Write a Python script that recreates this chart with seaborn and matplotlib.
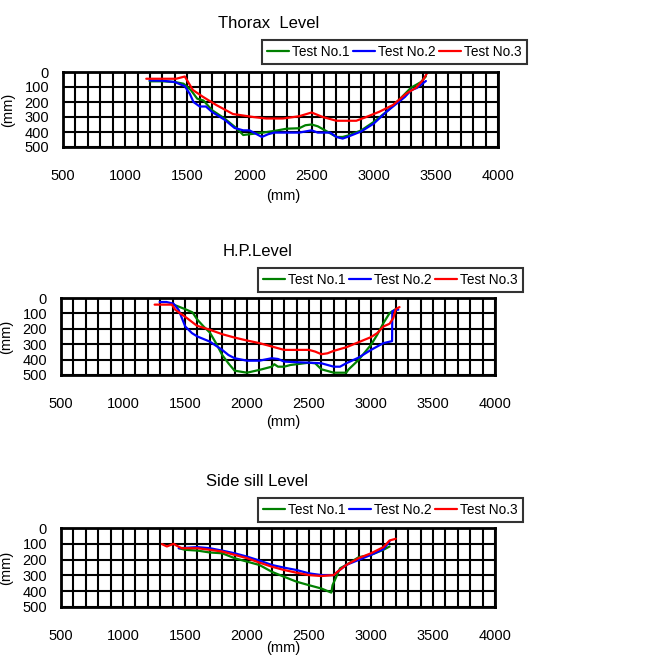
import matplotlib
matplotlib.use("Agg")
import matplotlib.pyplot as plt
import seaborn as sns
import numpy as np

sns.set_style("white")
plt.rcParams['font.family'] = ['Liberation Sans', 'DejaVu Sans']
plt.rcParams.update({"text.color": "black", "axes.labelcolor": "black",
                     "xtick.color": "black", "ytick.color": "black"})

# Thorax Level
th1_x = [1197, 1300, 1400, 1470, 1530, 1580, 1630, 1700, 1800, 1900, 1950, 2000, 2100, 2200, 2300, 2400, 2450, 2500, 2550, 2600, 2700, 2750, 2800, 2900, 3000, 3100, 3200, 3300, 3380, 3420]
th1_y = [62, 62, 67, 78, 122, 178, 190, 255, 310, 378, 420, 415, 405, 393, 378, 375, 355, 350, 362, 385, 433, 433, 422, 389, 333, 267, 189, 105, 67, 29]
th2_x = [1197, 1300, 1400, 1480, 1520, 1550, 1600, 1650, 1700, 1800, 1880, 1950, 2000, 2100, 2150, 2200, 2300, 2400, 2500, 2550, 2650, 2700, 2750, 2800, 2900, 3000, 3100, 3200, 3250, 3300, 3350, 3420]
th2_y = [56, 58, 67, 95, 145, 200, 230, 230, 267, 318, 373, 389, 389, 433, 415, 404, 404, 404, 389, 404, 404, 433, 444, 429, 396, 344, 267, 200, 167, 122, 105, 60]
th3_x = [1170, 1300, 1410, 1480, 1545, 1625, 1733, 1867, 2030, 2135, 2270, 2400, 2500, 2590, 2700, 2860, 2940, 3045, 3155, 3260, 3340, 3395, 3435]
th3_y = [45, 45, 45, 30, 120, 165, 220, 280, 300, 310, 310, 295, 270, 300, 325, 325, 300, 265, 220, 145, 105, 55, 0]

# H.P.Level
hp1_x = [1408, 1500, 1560, 1600, 1650, 1700, 1750, 1800, 1850, 1900, 2000, 2100, 2200, 2220, 2250, 2300, 2350, 2400, 2500, 2550, 2600, 2700, 2800, 2820, 2900, 3000, 3050, 3100, 3150, 3200]
hp1_y = [43, 72, 93, 141, 185, 224, 293, 370, 424, 472, 485, 467, 446, 430, 446, 446, 435, 430, 420, 424, 463, 485, 485, 463, 402, 304, 239, 163, 98, 72]
hp2_x = [1295, 1350, 1408, 1448, 1502, 1556, 1600, 1700, 1800, 1850, 1900, 2000, 2100, 2200, 2250, 2300, 2400, 2500, 2600, 2700, 2750, 2800, 2900, 3000, 3100, 3170, 3172, 3200, 3220]
hp2_y = [26, 26, 37, 76, 185, 228, 250, 283, 337, 370, 391, 407, 407, 391, 396, 413, 417, 420, 424, 446, 446, 424, 387, 337, 293, 280, 87, 76, 76]
hp3_x = [1255, 1394, 1421, 1515, 1596, 1700, 1800, 1900, 2000, 2100, 2200, 2300, 2400, 2500, 2550, 2600, 2650, 2700, 2800, 2900, 3000, 3050, 3100, 3150, 3180, 3200, 3230]
hp3_y = [43, 43, 76, 130, 180, 206, 235, 257, 276, 293, 315, 337, 337, 337, 348, 365, 359, 343, 320, 287, 254, 228, 185, 167, 130, 72, 59]

# Side sill Level
ss1_x = [1450, 1500, 1600, 1700, 1800, 1900, 2000, 2100, 2200, 2300, 2400, 2500, 2600, 2680, 2690, 2720, 2750, 2800, 2900, 3000, 3100, 3150]
ss1_y = [128, 138, 143, 155, 160, 191, 213, 234, 277, 309, 340, 362, 383, 409, 362, 309, 255, 234, 185, 170, 138, 117]
ss2_x = [1450, 1600, 1700, 1800, 1900, 2000, 2100, 2200, 2300, 2400, 2500, 2600, 2700, 2730, 2800, 2900, 3000, 3100, 3150]
ss2_y = [128, 121, 128, 143, 160, 181, 206, 234, 251, 266, 287, 298, 298, 277, 234, 202, 170, 134, 85]
ss3_x = [1314, 1354, 1408, 1435, 1475, 1600, 1700, 1800, 1900, 2000, 2100, 2200, 2300, 2400, 2500, 2600, 2700, 2730, 2800, 2900, 3000, 3100, 3150, 3200]
ss3_y = [102, 117, 100, 113, 128, 128, 138, 149, 170, 191, 219, 245, 266, 283, 298, 304, 298, 277, 234, 191, 160, 121, 79, 68]

names = ["Test No.1", "Test No.2", "Test No.3"]
colors = ["#008000", "#0000FF", "#FF0000"]

W, H = 661, 657
fig = plt.figure(figsize=(W / 100, H / 100), dpi=100)

panels = [
    ("Thorax  Level", [(th1_x, th1_y), (th2_x, th2_y), (th3_x, th3_y)], (63, 498, 72, 147), 269, 23, (262, 40), 196),
    ("H.P.Level", [(hp1_x, hp1_y), (hp2_x, hp2_y), (hp3_x, hp3_y)], (61, 495, 298, 375), 258, 252, (258, 268), 422),
    ("Side sill Level", [(ss1_x, ss1_y), (ss2_x, ss2_y), (ss3_x, ss3_y)], (61, 495, 528, 607), 257, 482, (258, 498), 648),
]

for title, series, (l, r, t, b), tx, ty, (lx, ly), xly in panels:
    ax = fig.add_axes([l / W, 1 - b / H, (r - l) / W, (b - t) / H])
    for (xs, ys), nm, c in zip(series, names, colors):
        sns.lineplot(x=xs, y=ys, ax=ax, color=c, lw=1.6, label=nm, sort=False, estimator=None)
    ax.set_xlim(500, 4000)
    ax.set_ylim(500, 0)
    ax.set_xticks(np.arange(500, 4001, 500))
    ax.set_yticks(np.arange(0, 501, 100))
    ax.set_xticks(np.arange(500, 4001, 100), minor=True)
    ax.grid(True, which="both", color="black", lw=1.5)
    ax.set_axisbelow(True)
    for s in ax.spines.values():
        s.set_color("black")
        s.set_linewidth(2)
    ax.tick_params(axis="x", which="both", length=0, pad=16, labelsize=10.5)
    ax.tick_params(axis="y", length=0, pad=10, labelsize=10.5)
    ax.set_ylabel("(mm)", fontsize=10.5, labelpad=0)
    ax.set_xlabel("")
    ax.yaxis.set_label_coords(-48 / (r - l), 0.5)
    fig.text(tx / W, 1 - ty / H, title, ha="center", va="center", fontsize=12)
    fig.text(283 / W, 1 - xly / H, "(mm)", ha="center", va="center", fontsize=10.5)
    h, lb = ax.get_legend_handles_labels()
    ax.get_legend().remove()
    leg = fig.legend(h, lb, loc="upper left", bbox_to_anchor=(lx / W, 1 - ly / H), ncol=3,
                     fontsize=9.8, frameon=True, fancybox=False, edgecolor="black",
                     handlelength=1.6, handletextpad=0.25, columnspacing=0.25,
                     borderpad=0.35, borderaxespad=0)
    leg.get_frame().set_linewidth(1.5)

fig.savefig("out.png", dpi=100)
